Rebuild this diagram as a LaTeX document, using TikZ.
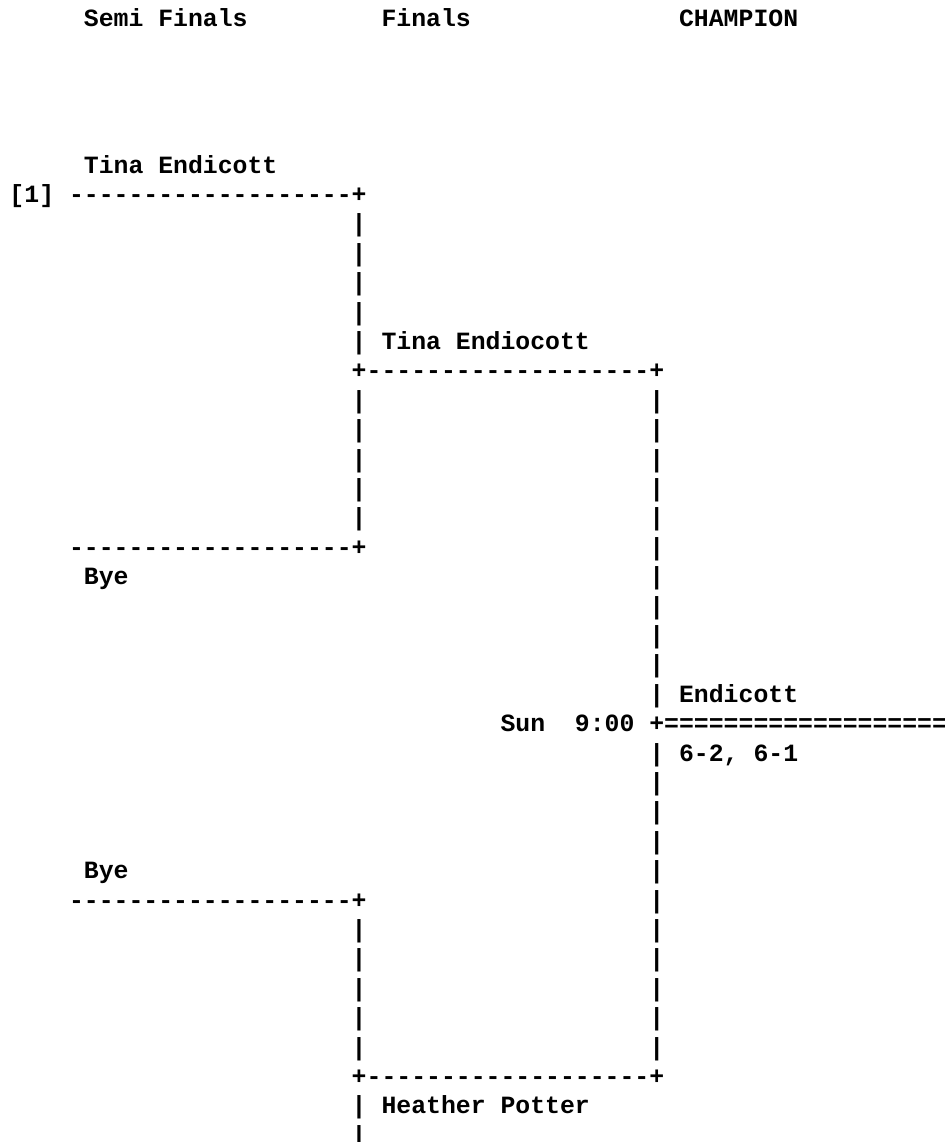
\documentclass[tikz,border=0pt]{standalone}
\usepackage{fontspec}
\setmonofont{Liberation Mono}
\tikzset{
  txt/.style={anchor=base west, inner sep=0pt, outer sep=0pt,
    font=\ttfamily\bfseries\fontsize{18.6pt}{22pt}\selectfont, text=black},
}
% column/row placement (units are pixels of the reference)
\newcommand\T[4]{\node[txt] (#1) at ({9.5+14.88*#2},{202.5+29.4*(#3-6)}) {#4};}
\begin{document}
\begin{tikzpicture}[x=0.75pt,y=-0.75pt]
\useasboundingbox (0,0) rectangle (945,1142);
\clip (0,0) rectangle (945,1142);
% header
\T{hsemi}{5}{0}{Semi Finals}
\T{hfin}{25}{0}{Finals}
\T{hchamp}{45}{0}{CHAMPION}
% upper semi
\T{n5}{5}{5}{Tina Endicott}
\T{seed}{0}{6}{[1]}
\T{l6}{4}{6}{-------------------+}
\foreach \r in {7,...,11} {\T{a\r}{23}{\r}{|}}
\T{n11}{25}{11}{Tina Endiocott}
\T{l12}{23}{12}{+-------------------+}
\foreach \r in {13,...,17} {\T{a\r}{23}{\r}{|}}
\T{l18}{4}{18}{-------------------+}
\T{n19}{5}{19}{Bye}
% final column
\foreach \r in {13,...,23} {\T{c\r}{43}{\r}{|}}
\T{n23}{45}{23}{Endicott}
\T{sun}{33}{24}{Sun}
\T{time}{38}{24}{9:00}
\T{l24}{43}{24}{+=====================}
\T{n25}{45}{25}{6-2, 6-1}
\foreach \r in {25,...,35} {\T{c\r}{43}{\r}{|}}
% lower semi
\T{n29}{5}{29}{Bye}
\T{l30}{4}{30}{-------------------+}
\foreach \r in {31,...,35} {\T{a\r}{23}{\r}{|}}
\T{l36}{23}{36}{+-------------------+}
\T{a37}{23}{37}{|}
\T{n37}{25}{37}{Heather Potter}
\T{a38}{23}{38}{|}
\end{tikzpicture}
\end{document}
